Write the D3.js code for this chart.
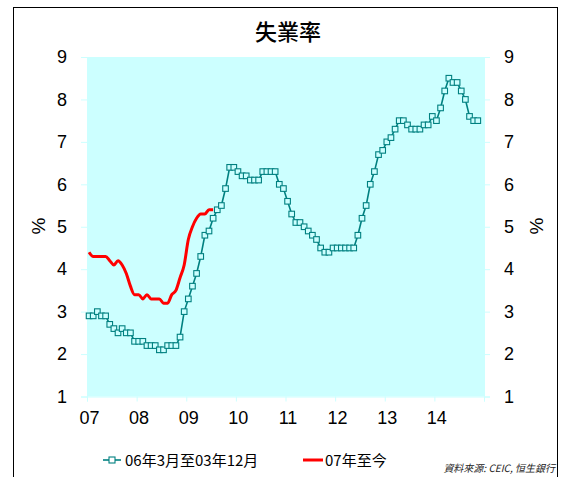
<!DOCTYPE html>
<html>
<head>
<meta charset="utf-8">
<script src="https://cdn.jsdelivr.net/npm/d3@7"></script>
<style>
  body { margin: 0; background: #fff; }
  svg { display: block; }
</style>
</head>
<body>
<svg id="chart"></svg>
<script>
// Chart values (monthly, unemployment rate %)
const yearLabels = ["07", "08", "09", "10", "11", "12", "13", "14"];
const yTicks = [1, 2, 3, 4, 5, 6, 7, 8, 9];

// 06年3月至03年12月 series, one value per month
const seriesOld = [
  2.9, 2.9, 3.0, 2.9, 2.9,
  2.7, 2.6, 2.5, 2.6, 2.5, 2.5,
  2.3, 2.3, 2.3, 2.2, 2.2, 2.2, 2.1, 2.1,
  2.2, 2.2, 2.2, 2.4,
  3.0, 3.3, 3.6, 3.9, 4.3, 4.8, 4.9, 5.2, 5.4, 5.5, 5.9,
  6.4, 6.4, 6.3, 6.2, 6.2, 6.1, 6.1, 6.1, 6.3, 6.3, 6.3, 6.3, 6.0, 5.9, 5.6,
  5.3, 5.1, 5.1, 5.0, 4.9, 4.8, 4.7, 4.5, 4.4, 4.4,
  4.5, 4.5, 4.5, 4.5, 4.5, 4.5,
  4.8, 5.2, 5.5, 6.0, 6.3, 6.7, 6.8, 7.0, 7.1, 7.3, 7.5,
  7.5, 7.4, 7.3, 7.3, 7.3, 7.4, 7.4, 7.6, 7.5, 7.8, 8.2, 8.5, 8.4, 8.4, 8.2, 8.0, 7.6, 7.5, 7.5
];

// 07年至今 series, monthly from Jan 2007
const seriesNew = [
  4.4, 4.3, 4.3, 4.3, 4.3, 4.2, 4.1, 4.2, 4.1, 3.9, 3.6, 3.4,
  3.4, 3.3, 3.4, 3.3, 3.3, 3.3, 3.2, 3.2, 3.4, 3.5, 3.8, 4.1,
  4.7, 5.0, 5.2, 5.3, 5.3, 5.4, 5.4
];

const legendLabels = ["06年3月至03年12月", "07年至今"];
const titleText = "失業率";
const sourceText = "資料來源: CEIC, 恒生銀行";

// SVG dimensions
const width = 563;
const height = 477;
const plot = { left: 87, right: 484, top: 57, bottom: 396.5 };

const teal = "#008080";
const red = "#FF0000";
const bg = "#CCFFFF";
const numFont = "'Liberation Sans', Arial, sans-serif";
const cjkFont = "'Noto Sans CJK TC', 'Liberation Sans', sans-serif";

const svg = d3.select("#chart")
  .attr("width", width)
  .attr("height", height);

// Outer frame
svg.append("rect")
  .attr("x", 13.5).attr("y", 7.5)
  .attr("width", 544).attr("height", 490)
  .attr("fill", "none")
  .attr("stroke", "#000")
  .attr("stroke-width", 1);

// Scales
const xScale = d3.scaleLinear()
  .domain([0, 96])
  .range([plot.left, plot.right]);

const yScale = d3.scaleLinear()
  .domain([1, 9])
  .range([plot.bottom, plot.top]);

// Plot background
svg.append("rect")
  .attr("x", plot.left).attr("y", plot.top)
  .attr("width", plot.right - plot.left)
  .attr("height", plot.bottom - plot.top)
  .attr("fill", bg);

// Axes
function styleAxis(g) {
  g.select(".domain").attr("stroke", bg);
  g.selectAll(".tick line").attr("stroke", bg);
  g.selectAll(".tick text")
    .attr("font-family", numFont)
    .attr("font-size", 18)
    .attr("fill", "#000");
}

const yAxisLeft = d3.axisLeft(yScale).tickValues(yTicks).tickSize(6).tickPadding(14).tickFormat(d3.format("d"));
const yAxisRight = d3.axisRight(yScale).tickValues(yTicks).tickSize(6).tickPadding(14).tickFormat(d3.format("d"));

svg.append("g")
  .attr("transform", "translate(" + plot.left + ",0)")
  .call(yAxisLeft)
  .call(styleAxis);

svg.append("g")
  .attr("transform", "translate(" + plot.right + ",0)")
  .call(yAxisRight)
  .call(styleAxis);

const xTickValues = d3.range(0, 97, 12);
const xAxis = d3.axisBottom(xScale)
  .tickValues(xTickValues)
  .tickSize(5)
  .tickPadding(10)
  .tickFormat((d, i) => yearLabels[i] || "");

svg.append("g")
  .attr("transform", "translate(0," + plot.bottom + ")")
  .call(xAxis)
  .call(styleAxis)
  .selectAll(".tick text")
  .attr("dx", 2);

// Axis titles
[[38, 226], [536, 226]].forEach(([x, y]) => {
  svg.append("text")
    .attr("transform", "translate(" + x + "," + y + ") rotate(-90)")
    .attr("text-anchor", "middle")
    .attr("dominant-baseline", "central")
    .attr("font-family", numFont)
    .attr("font-size", 19)
    .text("%");
});

// Title
svg.append("text")
  .attr("x", 288).attr("y", 40)
  .attr("text-anchor", "middle")
  .attr("font-family", cjkFont)
  .attr("font-size", 22)
  .attr("font-weight", 500)
  .text(titleText);

// Lines
const monthX = (d, i) => xScale(i + 0.5);

const oldLine = d3.line()
  .x(monthX)
  .y(d => yScale(d));

svg.append("path")
  .datum(seriesOld)
  .attr("d", oldLine)
  .attr("fill", "none")
  .attr("stroke", teal)
  .attr("stroke-width", 1.6);

svg.selectAll("rect.marker")
  .data(seriesOld)
  .enter()
  .append("rect")
  .attr("class", "marker")
  .attr("x", (d, i) => monthX(d, i) - 2.8)
  .attr("y", d => yScale(d) - 2.8)
  .attr("width", 5.6)
  .attr("height", 5.6)
  .attr("fill", bg)
  .attr("stroke", teal)
  .attr("stroke-width", 1.1);

const newLine = d3.line()
  .x(monthX)
  .y(d => yScale(d))
  .curve(d3.curveMonotoneX);

svg.append("path")
  .datum(seriesNew)
  .attr("d", newLine)
  .attr("fill", "none")
  .attr("stroke", red)
  .attr("stroke-width", 3);

// Legend
const legend = svg.append("g").attr("font-family", cjkFont).attr("font-size", 15);

legend.append("line")
  .attr("x1", 103).attr("x2", 121).attr("y1", 460).attr("y2", 460)
  .attr("stroke", teal).attr("stroke-width", 1.6);
legend.append("rect")
  .attr("x", 109).attr("y", 457).attr("width", 6).attr("height", 6)
  .attr("fill", "#fff").attr("stroke", teal).attr("stroke-width", 1.1);
legend.append("text")
  .attr("x", 125).attr("y", 465.5)
  .text(legendLabels[0]);

legend.append("line")
  .attr("x1", 303).attr("x2", 323).attr("y1", 460).attr("y2", 460)
  .attr("stroke", red).attr("stroke-width", 3);
legend.append("text")
  .attr("x", 325).attr("y", 465.5)
  .text(legendLabels[1]);

// Source note
svg.append("text")
  .attr("x", 555).attr("y", 472)
  .attr("text-anchor", "end")
  .attr("font-family", cjkFont)
  .attr("font-size", 10)
  .attr("font-style", "italic")
  .attr("fill", "#222")
  .text(sourceText);
</script>
</body>
</html>
